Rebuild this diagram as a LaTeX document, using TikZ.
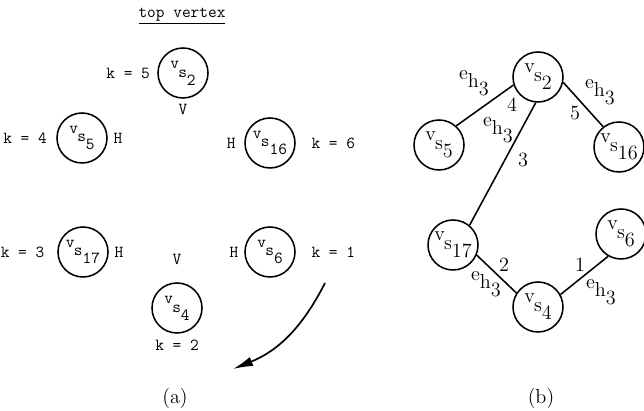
\documentclass[tikz,border=0pt]{standalone}
\usetikzlibrary{arrows.meta,positioning}
\newcommand{\vsn}[1]{\raisebox{0.22cm}{v}\kern-0.5pt s\raisebox{-0.2cm}{#1}}
\newcommand{\ehn}{\raisebox{0.2cm}{e}h\raisebox{-0.2cm}{3}}

\begin{document}
\begin{tikzpicture}[>=Latex, font=\ttfamily\large,
  vtx/.style={circle, draw, line width=1.1pt, minimum size=1.25cm, inner sep=0pt},
  lbl/.style={inner sep=1pt},
  elbl/.style={font=\rmfamily\Large, inner sep=1pt},
  edge/.style={line width=1.1pt}]
  \useasboundingbox (0,0) rectangle (16.1,10.275);

  % (a) vertex order
  \node[lbl] (top) at (4.55,9.875) {\underline{top vertex}};
  \node[vtx] (a2) at (4.575,8.45) {\vsn{2}};
  \node[vtx] (a5) at (2.05,6.825) {\vsn{5}};
  \node[vtx] (a16) at (6.75,6.70) {\vsn{16}};
  \node[vtx] (a17) at (2.075,3.975) {\vsn{17}};
  \node[vtx] (a6) at (6.75,3.975) {\vsn{6}};
  \node[vtx] (a4) at (4.425,2.575) {\vsn{4}};

  \node[lbl, left=4pt of a2] (k5) {k = 5};
  \node[lbl, below=3pt of a2] (v2) {V};
  \node[lbl, left=5.5pt of a5] (k4) {k = 4};
  \node[lbl, right=3pt of a5] (h5) {H};
  \node[lbl, left=5pt of a16] (h16) {H};
  \node[lbl, right=10pt of a16] (k6) {k = 6};
  \node[lbl, left=8pt of a17] (k3) {k = 3};
  \node[lbl, right=3pt of a17] (h17) {H};
  \node[lbl, left=3pt of a6] (h6) {H};
  \node[lbl, right=10pt of a6] (k1) {k = 1};
  \node[lbl, above=11pt of a4] (v4) {V};
  \node[lbl, below=3pt of a4] (k2) {k = 2};

  \coordinate (arrS) at (8.125,3.2);
  \coordinate (arrE) at (5.825,1.05);
  \draw[line width=1.2pt, -{Latex[length=5mm,width=2.4mm]}] (arrS) to[out=-117,in=22] (arrE);
  \node[elbl] (capa) at (4.375,0.325) {(a)};

  % (b) resulting tree
  \node[vtx, font=\rmfamily\Large] (b2) at (13.45,8.35) {\vsn{2}};
  \node[vtx, font=\rmfamily\Large] (b5) at (10.975,6.65) {\vsn{5}};
  \node[vtx, font=\rmfamily\Large] (b16) at (15.475,6.6) {\vsn{16}};
  \node[vtx, font=\rmfamily\Large] (b17) at (11.325,4.15) {\vsn{17}};
  \node[vtx, font=\rmfamily\Large] (b6) at (15.525,4.425) {\vsn{6}};
  \node[vtx, font=\rmfamily\Large] (b4) at (13.45,2.6) {\vsn{4}};

  \draw[edge] (b2.198) -- (b5.48);
  \draw[edge] (b2.-12) -- (b16.128);
  \draw[edge] (b2.-95) -- (b17.50);
  \draw[edge] (b17.-23) -- (b4.147);
  \draw[edge] (b4.29) -- (b6.-120);

  \node[elbl] (e25) at (11.85,8.2) {\ehn};
  \node[elbl] (n4) at (12.8,7.65) {4};
  \node[elbl] (e216) at (15.0,7.975) {\ehn};
  \node[elbl] (n5) at (14.375,7.45) {5};
  \node[elbl] (e217) at (12.45,7.025) {\ehn};
  \node[elbl] (n3) at (13.075,6.275) {3};
  \node[elbl] (n2) at (12.6,3.65) {2};
  \node[elbl] (e174) at (12.15,3.175) {\ehn};
  \node[elbl] (n1) at (14.5,3.65) {1};
  \node[elbl] (e46) at (15.025,2.975) {\ehn};
  \node[elbl] (capb) at (13.525,0.325) {(b)};
\end{tikzpicture}
\end{document}
